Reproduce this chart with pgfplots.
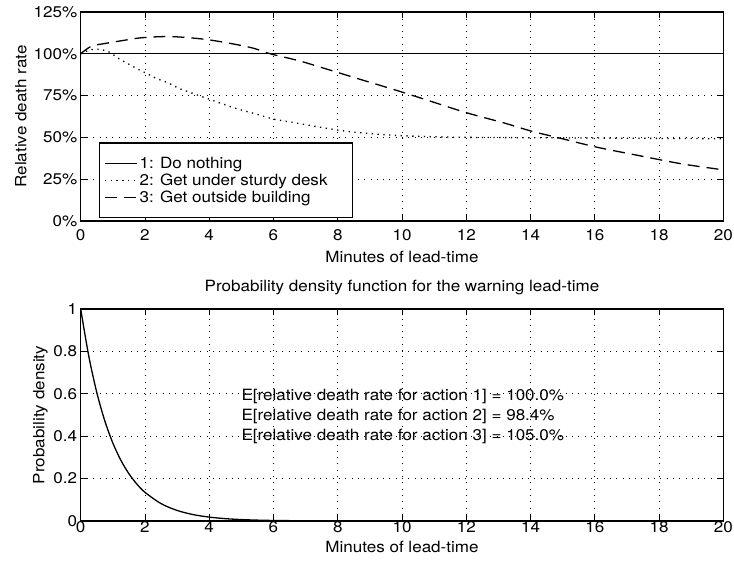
\documentclass[border=0pt]{standalone}
\usepackage{fontspec}
\setmainfont[FakeStretch=1.1]{TeX Gyre Heros}
\usepackage{pgfplots}
\usepackage{pgfplotstable}
\pgfplotsset{compat=1.18}

% relative death rate, action 1: do nothing
\pgfplotstableread{
x y
0 100
20 100
}\actionA

% relative death rate, action 2: get under sturdy desk
\pgfplotstableread{
x y
0 100
0.3 102.4
0.6 102.6
0.9 100.9
1.2 96.9
1.5 93.8
1.8 90.6
2.05 88.3
2.35 85.3
2.7 82.8
3.05 79.4
3.45 76.6
4.05 72.5
4.8 67.5
5.4 64.3
6 61
6.8 58.3
7.95 54.5
8.7 52.8
9.9 51.1
11.4 50.2
13 49.9
15 49.7
17 49.5
20 49.2
}\actionB

% relative death rate, action 3: get outside building
\pgfplotstableread{
x y
0 100
0.33 104.5
0.8 106.3
1.3 107.9
1.9 109.6
2.8 110.3
3.85 108.7
4.8 105.7
5.4 103.2
5.9 100
6.8 95.8
7.75 90.3
8.7 84.7
9.8 78.3
10.75 72.5
12 64.8
13.2 58.5
14.05 53.6
14.8 50.1
16.05 44.2
17.3 39.4
18.7 34.2
20 30.6
}\actionC

% density of the warning lead-time (minutes)
\pgfplotstableread{
x y
0 1.0000
0.25 0.7788
0.5 0.6065
0.75 0.4724
1 0.3679
1.25 0.2865
1.5 0.2231
1.75 0.1738
2 0.1353
2.5 0.0821
3 0.0498
3.5 0.0302
4 0.0183
4.5 0.0111
5 0.0067
5.5 0.0041
6 0.0025
7 0.0009
8 0.0003
10 0.0000
20 0.0000
}\leadpdf

\pgfplotsset{
  matlab/.style={
    scale only axis, width=642.6bp,
    xmin=0, xmax=20, xtick={0,2,...,20},
    tick align=inside, tick pos=both,
    xticklabel pos=lower, yticklabel pos=left,
    major tick length=6bp,
    tick style={black, line width=0.9bp},
    axis line style={black, line width=1.1bp},
    grid=major,
    major grid style={black, line width=0.8bp, dash pattern=on 0.8bp off 5.5bp},
    font=\fontsize{15.5bp}{18bp}\selectfont,
    /pgf/number format/assume math mode=true,
  },
  curve/.style={black, line width=1.3bp, smooth},
}

\begin{document}
\begin{tikzpicture}
\useasboundingbox (0,0) rectangle (734bp,566bp);

\begin{axis}[matlab,
  at={(80.7bp,345bp)}, anchor=south west, height=209bp,
  ymin=0, ymax=125, ytick={0,25,...,125},
  yticklabels={0\%,25\%,50\%,75\%,100\%,125\%},
  xticklabel style={yshift=-5bp},
  xlabel={Minutes of lead-time},
  xlabel style={at={(axis description cs:0.5,-0.172)}, anchor=center},
  ylabel={Relative death rate},
  ylabel style={at={(axis description cs:-0.093,0.5)}, anchor=center},
  legend style={at={(rel axis cs:0.028,0.012)}, anchor=south west,
    draw=black, line width=1.1bp, fill=white,
    inner xsep=5bp, inner ysep=12bp,
    font=\fontsize{15.5bp}{18bp}\selectfont},
  legend cell align=left,
  legend image code/.code={\draw[#1] (0bp,0bp) -- (32bp,0bp);},
]
\addplot[curve] table {\actionA};
\addlegendentry{1: Do nothing}
\addplot[curve, dash pattern=on 1.3bp off 4.5bp] table {\actionB};
\addlegendentry{2: Get under sturdy desk\hspace*{18bp}}
\addplot[curve, dash pattern=on 12bp off 7bp] table {\actionC};
\addlegendentry{3: Get outside building}
\end{axis}

\begin{axis}[matlab,
  at={(80.7bp,45bp)}, anchor=south west, height=212bp,
  ymin=0, ymax=1, ytick={0,0.2,...,1},
  yticklabel style={/pgf/number format/fixed},
  xticklabel style={yshift=3bp},
  title={Probability density function for the warning lead-time},
  title style={at={(axis description cs:0.5,1.072)}, anchor=center, yshift=0pt},
  xlabel={Minutes of lead-time},
  xlabel style={at={(axis description cs:0.5,-0.123)}, anchor=center},
  ylabel={Probability density},
  ylabel style={at={(axis description cs:-0.0625,0.5)}, anchor=center},
]
\addplot[curve] table {\leadpdf};
\node[anchor=west, inner sep=0] at (axis cs:5.0,0.587) {E[relative death rate for action 1] = 100.0\%};
\node[anchor=west, inner sep=0] at (axis cs:5.0,0.493) {E[relative death rate for action 2] = 98.4\%};
\node[anchor=west, inner sep=0] at (axis cs:5.0,0.399) {E[relative death rate for action 3] = 105.0\%};
\end{axis}
\end{tikzpicture}
\end{document}
